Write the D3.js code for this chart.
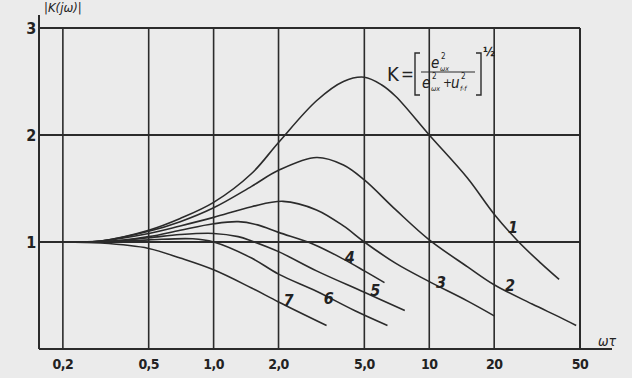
<!DOCTYPE html>
<html>
<head>
<meta charset="utf-8">
<script src="https://cdn.jsdelivr.net/npm/d3@7"></script>
<style>
  html, body { margin: 0; padding: 0; background: #ebebeb; }
  svg { display: block; }
  text { fill: #222; font-family: "DejaVu Sans Condensed", "DejaVu Sans", sans-serif; }
  .num { font-weight: bold; font-size: 14px; letter-spacing: -0.6px; }
</style>
</head>
<body>
<svg width="632" height="378"></svg>
<script>
// omega*tau grid values and |K| grid values
var xTicks = [0.2, 0.5, 1, 2, 5, 10, 20, 50],
    xTickLabels = ["0,2", "0,5", "1,0", "2,0", "5,0", "10", "20", "50"],
    yTicks = [1, 2, 3],
    yTickLabels = ["1", "2", "3"];

// curves: [omega*tau, |K|]
var curve1 = [[0.2,1],[0.3,1.01],[0.5,1.11],[0.7,1.22],[1,1.37],[1.5,1.64],[2,1.93],[3,2.32],[4,2.50],[5,2.54],[6,2.47],[7,2.36],[10,2.0],[15,1.6],[20,1.26],[26,1.0],[33,0.8],[40,0.65]],
    curve2 = [[0.2,1],[0.3,1.01],[0.5,1.10],[0.7,1.19],[1,1.32],[1.5,1.52],[2,1.67],[3,1.79],[4,1.72],[5,1.58],[7,1.30],[10,1.02],[15,0.77],[20,0.60],[30,0.42],[40,0.30],[48,0.22]],
    curve3 = [[0.2,1],[0.3,1.01],[0.5,1.08],[0.7,1.15],[1,1.23],[1.5,1.33],[2.1,1.38],[3,1.30],[4,1.15],[5,1.0],[7,0.80],[10,0.63],[15,0.45],[20,0.31]],
    curve4 = [[0.2,1],[0.3,1.0],[0.5,1.05],[0.7,1.11],[1,1.17],[1.3,1.19],[1.6,1.16],[2,1.09],[2.9,0.98],[4,0.84],[5,0.73],[6.2,0.62]],
    curve5 = [[0.2,1],[0.3,1.0],[0.5,1.04],[0.7,1.07],[1,1.08],[1.3,1.05],[1.5,1.01],[2,0.91],[3,0.73],[5,0.53],[7.7,0.36]],
    curve6 = [[0.2,1],[0.3,1.0],[0.5,1.02],[0.8,1.03],[1,1.0],[1.5,0.85],[2,0.70],[3,0.54],[4.5,0.36],[6.4,0.22]],
    curve7 = [[0.2,1],[0.3,0.99],[0.5,0.94],[0.7,0.85],[1,0.74],[1.5,0.57],[2,0.44],[3.34,0.22]];

var curves = [curve1, curve2, curve3, curve4, curve5, curve6, curve7],
    curveNames = ["1", "2", "3", "4", "5", "6", "7"],
    // where each number sits, in data units
    nameAt = [[24.4,1.14],[23.6,0.60],[11.3,0.63],[4.27,0.86],[5.6,0.55],[3.41,0.48],[2.22,0.46]];

var svg = d3.select("svg"),
    x0 = 39, x1 = 580, y0 = 349, y1 = 28;

var x = d3.scaleLog().domain([0.155, 50]).range([x0, x1]),
    y = d3.scaleLinear().domain([0, 3]).range([y0, y1]);

var ink = "#2b2b2b";

// grid
svg.append("g").selectAll("line")
    .data(xTicks)
  .enter().append("line")
    .attr("x1", function(d) { return x(d); })
    .attr("x2", function(d) { return x(d); })
    .attr("y1", y1)
    .attr("y2", y0)
    .attr("stroke", ink)
    .attr("stroke-width", 1.6);

svg.append("g").selectAll("line")
    .data(yTicks)
  .enter().append("line")
    .attr("x1", x0)
    .attr("x2", x1)
    .attr("y1", function(d) { return y(d); })
    .attr("y2", function(d) { return y(d); })
    .attr("stroke", ink)
    .attr("stroke-width", 2);

// axes, longer than the frame
svg.append("line").attr("x1", x0).attr("x2", x0).attr("y1", 15).attr("y2", y0)
    .attr("stroke", ink).attr("stroke-width", 2);
svg.append("line").attr("x1", x0).attr("x2", 612).attr("y1", y0).attr("y2", y0)
    .attr("stroke", ink).attr("stroke-width", 2);
svg.append("line").attr("x1", x1).attr("x2", x1).attr("y1", y1).attr("y2", y0)
    .attr("stroke", ink).attr("stroke-width", 2);

// tick labels
svg.append("g").selectAll("text")
    .data(xTicks)
  .enter().append("text")
    .attr("class", "num")
    .attr("x", function(d) { return x(d); })
    .attr("y", 369)
    .attr("text-anchor", "middle")
    .text(function(d, i) { return xTickLabels[i]; });

svg.append("g").selectAll("text")
    .data(yTicks)
  .enter().append("text")
    .attr("class", "num")
    .attr("x", 31)
    .attr("y", function(d) { return y(d) + 6; })
    .attr("text-anchor", "middle")
    .style("font-size", "16px")
    .text(function(d, i) { return yTickLabels[i]; });

svg.append("text")
    .attr("x", 44).attr("y", 12)
    .style("font-size", "13px")
    .style("font-style", "italic")
    .text("|K(jω)|");

svg.append("text")
    .attr("x", 598).attr("y", 346)
    .style("font-size", "14px")
    .style("font-style", "italic")
    .text("ωτ");

// curves
var line = d3.line()
    .x(function(d) { return x(d[0]); })
    .y(function(d) { return y(d[1]); })
    .curve(d3.curveCatmullRom.alpha(0.5));

svg.append("g").selectAll("path")
    .data(curves)
  .enter().append("path")
    .attr("d", line)
    .attr("fill", "none")
    .attr("stroke", ink)
    .attr("stroke-width", 1.6);

svg.append("g").selectAll("text")
    .data(nameAt)
  .enter().append("text")
    .attr("class", "num")
    .attr("x", function(d) { return x(d[0]); })
    .attr("y", function(d) { return y(d[1]) + 6; })
    .attr("text-anchor", "middle")
    .style("font-size", "16px")
    .style("font-style", "italic")
    .text(function(d, i) { return curveNames[i]; });

// formula K = [ e²ωx / (e²ωx + u²f-f) ]^½
var f = svg.append("g");
f.append("text").attr("x", 387).attr("y", 81).style("font-size", "20px").text("K");
f.append("text").attr("x", 401).attr("y", 80).style("font-size", "17px").text("=");
f.append("path").attr("d", "M420,53 H415 V95 H420").attr("fill", "none").attr("stroke", ink).attr("stroke-width", 1.4);
f.append("path").attr("d", "M476,53 H481 V95 H476").attr("fill", "none").attr("stroke", ink).attr("stroke-width", 1.4);
f.append("line").attr("x1", 421).attr("x2", 475).attr("y1", 72).attr("y2", 72).attr("stroke", ink).attr("stroke-width", 1.2);

f.append("text").attr("x", 431).attr("y", 68).style("font-size", "15px").style("font-style", "italic").text("e");
f.append("text").attr("x", 441).attr("y", 59).style("font-size", "8px").text("2");
f.append("text").attr("x", 440).attr("y", 71).style("font-size", "7px").style("font-style", "italic").text("ωx");

f.append("text").attr("x", 422).attr("y", 88).style("font-size", "15px").style("font-style", "italic").text("e");
f.append("text").attr("x", 432).attr("y", 79).style("font-size", "8px").text("2");
f.append("text").attr("x", 431).attr("y", 91).style("font-size", "7px").style("font-style", "italic").text("ωx");
f.append("text").attr("x", 443).attr("y", 87).style("font-size", "12px").text("+");
f.append("text").attr("x", 451).attr("y", 88).style("font-size", "15px").style("font-style", "italic").text("u");
f.append("text").attr("x", 461).attr("y", 79).style("font-size", "8px").text("2");
f.append("text").attr("x", 460).attr("y", 91).style("font-size", "7px").style("font-style", "italic").text("f-f");

f.append("text").attr("x", 483).attr("y", 56).style("font-size", "13px").style("font-weight", "bold").text("½");
</script>
</body>
</html>
